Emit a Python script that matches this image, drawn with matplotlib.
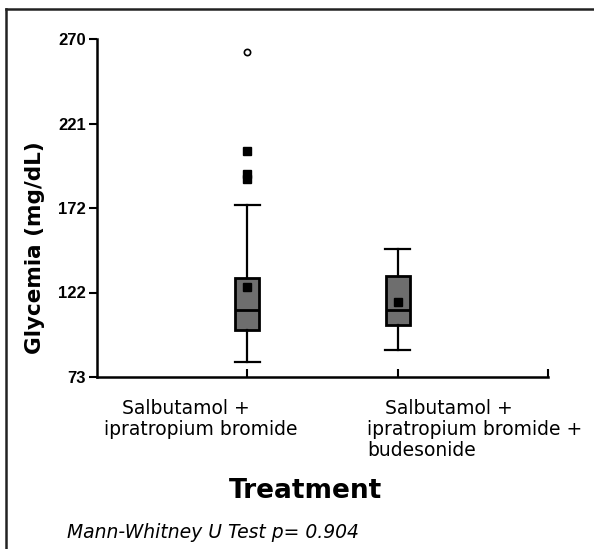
import matplotlib
matplotlib.use("Agg")
import matplotlib.pyplot as plt
from matplotlib.lines import Line2D

# box statistics (mg/dL)
groups = ["Salbutamol +\nipratropium bromide",
          "Salbutamol +\nipratropium bromide +\nbudesonide"]
positions = [1, 2]
whis_low = [81.5, 88.5]
q1 = [100.5, 103.5]
median = [112.0, 112.0]
q3 = [130.5, 132.0]
whis_high = [173.5, 147.5]
means = [125.5, 116.5]

# outliers (group 1 only)
out_x = [1, 1, 1]
out_y = [204.5, 191.5, 188.5]
extreme_x = [1]
extreme_y = [262.5]

yticks = [73, 122.25, 171.5, 220.75, 270]
ytick_labels = ["73", "122", "172", "221", "270"]

W, H = 594, 549
fig = plt.figure(figsize=(W / 100, H / 100), dpi=100)
ax = fig.add_axes([97 / W, 1 - 377 / H, (548 - 97) / W, (377 - 39) / H])

stats = []
for i in range(len(groups)):
    stats.append(dict(med=median[i], q1=q1[i], q3=q3[i],
                      whislo=whis_low[i], whishi=whis_high[i],
                      mean=means[i], fliers=[]))

ax.bxp(stats, positions=positions, widths=0.16, patch_artist=True,
       showmeans=True, showfliers=False,
       boxprops=dict(facecolor="#6e6e6e", edgecolor="black", linewidth=2),
       medianprops=dict(color="black", linewidth=2),
       whiskerprops=dict(color="black", linewidth=1.6),
       capprops=dict(color="black", linewidth=1.6),
       capwidths=0.17,
       meanprops=dict(marker="s", markerfacecolor="black",
                      markeredgecolor="black", markersize=5.5))

ax.plot(out_x, out_y, linestyle="", marker="s", markersize=5.5,
        color="black")
ax.plot(extreme_x, extreme_y, linestyle="", marker="o", markersize=4.5,
        markerfacecolor="white", markeredgecolor="black", markeredgewidth=1.2)

ax.set_xlim(0, 3)
ax.set_ylim(73, 270)

ax.spines["top"].set_visible(False)
ax.spines["right"].set_visible(False)
ax.spines["left"].set_linewidth(1.8)
ax.spines["bottom"].set_linewidth(1.8)

ax.set_yticks(yticks)
ax.set_yticklabels(ytick_labels, fontsize=12, fontweight="bold",
                   family="Liberation Sans")
ax.tick_params(axis="y", direction="out", length=6, width=1.5, pad=2)
ax.set_xticks([1, 2, 3])
ax.set_xticklabels(["", "", ""])
ax.tick_params(axis="x", direction="in", length=6, width=1.5)

# category labels
label_left = [104, 367]
for i, g in enumerate(groups):
    lines = g.split("\n")
    txt = "   " + lines[0] + "\n" + "\n".join(lines[1:])
    fig.text(label_left[i] / W, 1 - 399 / H, txt, ha="left", va="top",
             fontsize=13.5, family="DejaVu Sans", linespacing=1.15)

fig.text(35 / W, 1 - 248 / H, "Glycemia (mg/dL)", rotation=90,
         ha="center", va="center", fontsize=15.5, fontweight="bold",
         family="DejaVu Sans")
fig.text(305 / W, 1 - 491 / H, "Treatment", ha="center", va="center",
         fontsize=19, fontweight="bold", family="DejaVu Sans")
fig.text(67 / W, 1 - 533 / H, "Mann-Whitney U Test p= 0.904", ha="left",
         va="center", fontsize=13.5, style="italic", family="DejaVu Sans")

# outer frame of the figure panel
fig.add_artist(Line2D([6 / W, 1], [1 - 9 / H, 1 - 9 / H], color="#222222",
                      linewidth=1.8, transform=fig.transFigure))
fig.add_artist(Line2D([6 / W, 6 / W], [0, 1 - 9 / H], color="#222222",
                      linewidth=1.8, transform=fig.transFigure))

fig.savefig("out.png", dpi=100)
